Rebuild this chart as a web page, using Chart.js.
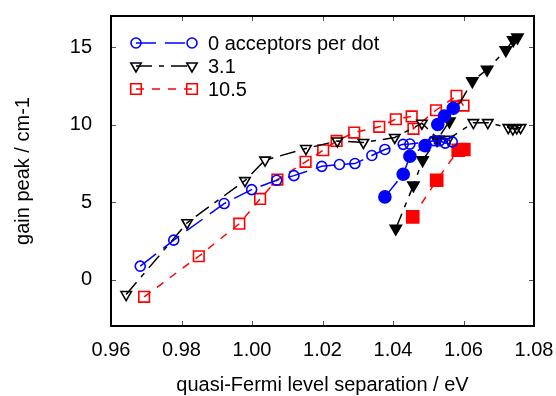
<!DOCTYPE html>
<html>
<head>
<meta charset="utf-8">
<script src="https://cdn.jsdelivr.net/npm/chart.js@4/dist/chart.umd.min.js"></script>
<style>
  html, body { margin: 0; padding: 0; background: #fff; }
  #wrap { width: 556px; height: 396px; }
</style>
</head>
<body>
<div id="wrap"><canvas id="myChart" width="556" height="396"></canvas></div>
<script>
// values
const blueOpenX = [0.9683, 0.9778, 0.9921, 0.9999, 1.0070, 1.0119, 1.0198, 1.0248, 1.0292, 1.0340, 1.0377, 1.0429, 1.0448, 1.0518, 1.0532, 1.0548, 1.0568];
const blueOpenY = [0.86, 2.54, 4.90, 5.80, 6.40, 6.70, 7.30, 7.42, 7.48, 8.00, 8.39, 8.72, 8.74, 8.95, 8.95, 8.80, 8.88];
const blueFilledX = [1.0377, 1.0429, 1.0448, 1.0491, 1.0527, 1.0546, 1.0571];
const blueFilledY = [5.33, 6.79, 7.95, 8.64, 10.00, 10.55, 11.05];

const blackOpenX = [0.9643, 0.9816, 0.9980, 1.0037, 1.0153, 1.0242, 1.0316, 1.0405, 1.0482, 1.0529, 1.0557, 1.0628, 1.0669, 1.0727, 1.0740, 1.0751, 1.0762];
const blackOpenY = [-0.97, 3.66, 6.38, 7.70, 8.45, 8.94, 8.84, 9.16, 10.08, 9.05, 9.05, 10.12, 10.12, 9.80, 9.72, 9.78, 9.80];
const blackFilledX = [1.0408, 1.0458, 1.0484, 1.0525, 1.0560, 1.0625, 1.0667, 1.0720, 1.0741, 1.0753];
const blackFilledY = [3.29, 6.08, 7.70, 9.00, 10.20, 12.80, 13.55, 14.80, 15.45, 15.62];

const redOpenX = [0.9694, 0.9849, 0.9964, 1.0023, 1.0072, 1.0152, 1.0202, 1.0240, 1.0290, 1.0361, 1.0408, 1.0453, 1.0458, 1.0522, 1.0580, 1.0600];
const redOpenY = [-1.12, 1.50, 3.60, 5.20, 6.45, 7.59, 8.34, 8.94, 9.48, 9.85, 10.34, 10.52, 9.72, 10.92, 11.85, 11.22];
const redFilledX = [1.0456, 1.0524, 1.0585, 1.0601];
const redFilledY = [4.04, 6.40, 8.34, 8.39];

const legendLabels = ["0 acceptors per dot", "3.1", "10.5"];
const xTicks = [0.96, 0.98, 1.00, 1.02, 1.04, 1.06, 1.08];
const yTicks = [0, 5, 10, 15];

const FONT = "'Liberation Sans', Arial, sans-serif";
Chart.defaults.font.family = FONT;
Chart.defaults.color = "#000";

const toPoints = (xs, ys) => xs.map((x, i) => ({ x: x, y: ys[i] }));

const BLUE = "#0000ff";
const RED = "#ff0000";
const BLACK = "#000000";
const NONE = "rgba(0,0,0,0)";

const makeSet = (xs, ys, color, dash, style, radius, filled, rotation) => ({
  data: toPoints(xs, ys),
  showLine: true,
  borderColor: color,
  borderWidth: 1.5,
  borderDash: dash,
  pointStyle: style,
  pointRadius: radius,
  pointRotation: rotation || 0,
  pointBorderColor: color,
  pointBackgroundColor: filled ? color : NONE,
  pointBorderWidth: 1.6,
  backgroundColor: NONE,
  fill: false,
});

const blueDash = [20, 9];
const blackDash = [16, 7, 5, 7];
const redDash = [8, 8];

const datasets = [
  makeSet(blueOpenX, blueOpenY, BLUE, blueDash, "circle", 5, false),
  makeSet(blueFilledX, blueFilledY, BLUE, blueDash, "circle", 6, true),
  makeSet(blackOpenX, blackOpenY, BLACK, blackDash, "triangle", 6, false, 180),
  makeSet(blackFilledX, blackFilledY, BLACK, blackDash, "triangle", 6.5, true, 180),
  makeSet(redOpenX, redOpenY, RED, redDash, "rect", 7.5, false),
  makeSet(redFilledX, redFilledY, RED, redDash, "rect", 8.5, true),
];

// legend rows point at the open-marker datasets
const legendSets = [0, 2, 4];

const legendPlugin = {
  id: "matlabLegend",
  afterDraw(chart) {
    const ctx = chart.ctx;
    const area = chart.chartArea;
    const x0 = area.left + 25;
    const x1 = area.left + 81;
    legendSets.forEach((dsIndex, i) => {
      const ds = chart.data.datasets[dsIndex];
      const y = area.top + 27 + i * 23;
      ctx.save();
      ctx.strokeStyle = ds.borderColor;
      ctx.lineWidth = ds.borderWidth;
      ctx.setLineDash(ds.borderDash);
      ctx.beginPath();
      ctx.moveTo(x0, y);
      ctx.lineTo(x1, y);
      ctx.stroke();
      ctx.setLineDash([]);
      ctx.fillStyle = ds.pointBackgroundColor;
      ctx.lineWidth = ds.pointBorderWidth;
      const opts = { pointStyle: ds.pointStyle, radius: ds.pointRadius, rotation: ds.pointRotation, borderWidth: ds.pointBorderWidth };
      Chart.helpers.drawPoint(ctx, opts, x0, y);
      Chart.helpers.drawPoint(ctx, opts, x1, y);
      ctx.fillStyle = "#000";
      ctx.font = "20px " + FONT;
      ctx.textBaseline = "middle";
      ctx.textAlign = "left";
      ctx.fillText(legendLabels[i], area.left + 97, y + 1);
      ctx.restore();
    });
  },
};

const framePlugin = {
  id: "frame",
  afterDraw(chart) {
    const ctx = chart.ctx;
    const a = chart.chartArea;
    const xs = chart.scales.x;
    const ys = chart.scales.y;
    ctx.save();
    ctx.strokeStyle = "#555";
    ctx.lineWidth = 1;
    ctx.beginPath();
    xTicks.forEach((v) => {
      const px = Math.round(xs.getPixelForValue(v)) + 0.5;
      ctx.moveTo(px, a.bottom); ctx.lineTo(px, a.bottom - 5);
      ctx.moveTo(px, a.top); ctx.lineTo(px, a.top + 5);
    });
    yTicks.forEach((v) => {
      const py = Math.round(ys.getPixelForValue(v)) + 0.5;
      ctx.moveTo(a.left, py); ctx.lineTo(a.left + 5, py);
      ctx.moveTo(a.right, py); ctx.lineTo(a.right - 5, py);
    });
    ctx.stroke();
    ctx.strokeStyle = "#000";
    ctx.lineWidth = 2;
    ctx.strokeRect(a.left, a.top, a.right - a.left, a.bottom - a.top);
    ctx.restore();
  },
};

const noScalePadding = (scale) => {
  scale.paddingTop = 0;
  scale.paddingBottom = 0;
  scale.paddingLeft = 0;
  scale.paddingRight = 0;
};

const configChart = {
  type: "scatter",
  data: { datasets: datasets },
  options: {
    responsive: false,
    animation: false,
    layout: { padding: { top: 16, right: 22, left: 0, bottom: 0 } },
    plugins: {
      legend: { display: false },
      tooltip: { enabled: false },
    },
    scales: {
      x: {
        type: "linear",
        min: 0.96,
        max: 1.08,
        grid: { display: false },
        border: { display: false },
        afterBuildTicks: (scale) => { scale.ticks = xTicks.map((v) => ({ value: v })); },
        afterFit: (scale) => { scale.height = 70; noScalePadding(scale); },
        ticks: {
          autoSkip: false,
          maxRotation: 0,
          padding: 4,
          font: { size: 20 },
          callback: (v) => Number(v).toFixed(2),
        },
        title: {
          display: true,
          text: "quasi-Fermi level separation / eV",
          font: { size: 20, lineHeight: 1 },
          padding: { top: 0, bottom: 1 },
        },
      },
      y: {
        type: "linear",
        min: -3,
        max: 17,
        grid: { display: false },
        border: { display: false },
        afterBuildTicks: (scale) => { scale.ticks = yTicks.map((v) => ({ value: v })); },
        afterFit: (scale) => { scale.width = 111; noScalePadding(scale); },
        ticks: {
          autoSkip: false,
          padding: 11,
          font: { size: 20 },
        },
        title: {
          display: true,
          text: "gain peak / cm-1",
          font: { size: 20, lineHeight: 1 },
          padding: { top: 13, bottom: 0 },
        },
      },
    },
  },
  plugins: [framePlugin, legendPlugin],
};

const myChart = new Chart(document.querySelector("#myChart"), configChart);
</script>
</body>
</html>
